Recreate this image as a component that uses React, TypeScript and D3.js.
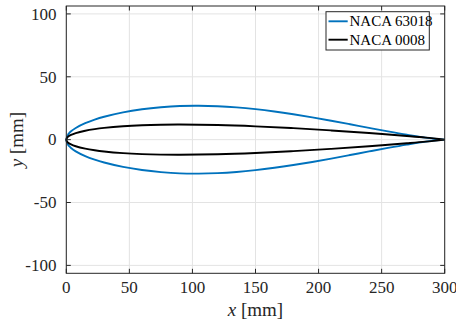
import React from "react";
import * as d3 from "d3";

// Chordwise stations [mm] and half-thickness [mm] of each symmetric section
const naca63018X = [0, 1.5, 2.25, 3.75, 7.5, 15, 22.5, 30, 45, 60, 75, 90, 105, 120, 135, 150, 165, 180, 195, 210, 225, 240, 255, 270, 285, 300];
const naca63018Y = [0, 4.21, 5.14, 6.65, 9.31, 13.09, 15.92, 18.2, 21.68, 24.14, 25.8, 26.8, 27.0, 26.62, 25.68, 24.25, 22.4, 20.2, 17.73, 15.05, 12.23, 9.36, 6.56, 3.92, 1.58, 0];

const naca0008X = [0, 0.75, 1.5, 3.75, 7.5, 15, 22.5, 30, 45, 60, 75, 90, 120, 150, 180, 210, 240, 270, 285, 300];
const naca0008Y = [0, 1.74, 2.44, 3.79, 5.23, 7.11, 8.4, 9.37, 10.69, 11.48, 11.88, 12.0, 11.61, 10.59, 9.13, 7.33, 5.25, 2.9, 1.61, 0];

const seriesNames = ["NACA 63018", "NACA 0008"];
const seriesColors = ["#0072BD", "#000000"];

const xTicks = [0, 50, 100, 150, 200, 250, 300];
const yTicks = [-100, -50, 0, 50, 100];

const W = 456;
const H = 325;
const left = 66.3;
const right = 444.7;
const top = 6;
const bottom = 273.3;

const FONT = "Liberation Serif";
const AXIS = "#262626";

function outline(xs: number[], ys: number[]): [number, number][] {
  const upper: [number, number][] = xs.map((x, i) => [x, ys[i]]).reverse() as [number, number][];
  const lower: [number, number][] = xs.slice(1).map((x, i) => [x, -ys[i + 1]]);
  return upper.concat(lower);
}

export default function App() {
  const x = d3.scaleLinear().domain([0, 300]).range([left, right]);
  const y = d3.scaleLinear().domain([-106.3, 106.3]).range([bottom, top]);

  const line = d3
    .line<[number, number]>()
    .x((d) => x(d[0]))
    .y((d) => y(d[1]))
    .curve(d3.curveCatmullRom.alpha(0.5));

  const shapes = [outline(naca63018X, naca63018Y), outline(naca0008X, naca0008Y)];

  const tickLen = 4.5;

  return (
    <svg width={W} height={H} style={{ position: "absolute", left: 0, top: 0, background: "#fff" }}>
      <rect x={0} y={0} width={W} height={H} fill="#fff" />
      {/* grid */}
      <g stroke="#e3e3e3" strokeWidth={1}>
        {xTicks.map((t) => (
          <line key={"gx" + t} x1={x(t)} x2={x(t)} y1={top} y2={bottom} />
        ))}
        {yTicks.map((t) => (
          <line key={"gy" + t} x1={left} x2={right} y1={y(t)} y2={y(t)} />
        ))}
      </g>

      {/* airfoil outlines */}
      {shapes.map((pts, i) => (
        <path key={i} d={line(pts) || ""} fill="none" stroke={seriesColors[i]} strokeWidth={1.9} strokeLinejoin="round" />
      ))}

      {/* axes box and ticks */}
      <g stroke={AXIS} strokeWidth={1} fill="none">
        <rect x={left} y={top} width={right - left} height={bottom - top} />
        {xTicks.map((t) => (
          <g key={"tx" + t}>
            <line x1={x(t)} x2={x(t)} y1={bottom} y2={bottom - tickLen} />
            <line x1={x(t)} x2={x(t)} y1={top} y2={top + tickLen} />
          </g>
        ))}
        {yTicks.map((t) => (
          <g key={"ty" + t}>
            <line x1={left} x2={left + tickLen} y1={y(t)} y2={y(t)} />
            <line x1={right} x2={right - tickLen} y1={y(t)} y2={y(t)} />
          </g>
        ))}
      </g>

      {/* tick labels */}
      <g style={{ fontFamily: FONT }} fontSize={17} fill={AXIS}>
        {xTicks.map((t) => (
          <text key={"lx" + t} x={x(t)} y={292.5} textAnchor="middle">
            {t}
          </text>
        ))}
        {yTicks.map((t) => (
          <text key={"ly" + t} x={56.5} y={y(t)} dy="0.34em" textAnchor="end">
            {t < 0 ? "-" + Math.abs(t) : t}
          </text>
        ))}
      </g>

      {/* axis labels */}
      <text x={(left + right) / 2} y={315.5} textAnchor="middle" style={{ fontFamily: FONT }} fontSize={19} fill={AXIS}>
        <tspan fontStyle="italic">x</tspan> [mm]
      </text>
      <text
        transform={`translate(23, ${(top + bottom) / 2}) rotate(-90)`}
        textAnchor="middle"
        style={{ fontFamily: FONT }}
        fontSize={19}
        fill={AXIS}
      >
        <tspan fontStyle="italic">y</tspan> [mm]
      </text>

      {/* legend */}
      <g>
        <rect x={326} y={11.7} width={103.3} height={38.3} fill="#fff" stroke={AXIS} strokeWidth={1} />
        {seriesNames.map((name, i) => (
          <g key={name}>
            <line x1={328.5} x2={347.7} y1={21.3 + i * 18.4} y2={21.3 + i * 18.4} stroke={seriesColors[i]} strokeWidth={1.9} />
            <text x={349.5} y={21.3 + i * 18.4} dy="0.34em" style={{ fontFamily: FONT }} fontSize={15} fill="#000">
              {name}
            </text>
          </g>
        ))}
      </g>
    </svg>
  );
}
